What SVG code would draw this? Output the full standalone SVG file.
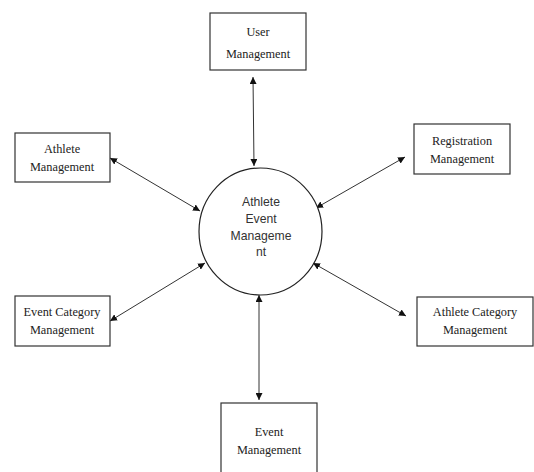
<svg xmlns="http://www.w3.org/2000/svg" width="534" height="472" viewBox="0 0 534 472">
<style>
.box{fill:#fff;stroke:#333;stroke-width:1.2}
.t{font-family:"Liberation Serif",serif;font-size:12.3px;fill:#222;text-anchor:middle}
.c{font-family:"Liberation Sans",sans-serif;font-size:12.2px;fill:#333;text-anchor:middle}
.ln{stroke:#333;stroke-width:1;fill:none;marker-start:url(#ah);marker-end:url(#ah)}
</style>
<defs>
<marker id="ah" viewBox="0 0 10 10" refX="10" refY="5" markerWidth="7" markerHeight="7" markerUnits="userSpaceOnUse" orient="auto-start-reverse">
<path d="M0,0 L10,5 L0,10 z" fill="#111"/>
</marker>
</defs>
<rect width="534" height="472" fill="#fff"/>
<g id="connectors">
<line class="ln" x1="253" y1="77" x2="254" y2="166"/>
<line class="ln" x1="110" y1="158" x2="200" y2="211"/>
<line class="ln" x1="405" y1="157" x2="316" y2="208"/>
<line class="ln" x1="110" y1="321" x2="205" y2="263"/>
<line class="ln" x1="313" y1="263" x2="406" y2="316"/>
<line class="ln" x1="259" y1="295" x2="259" y2="400"/>
</g>
<g id="center">
<ellipse cx="260.5" cy="231.5" rx="61.5" ry="63.5" fill="#fff" stroke="#222" stroke-width="1.2"/>
<text class="c" x="261" y="206">Athlete</text>
<text class="c" x="261" y="223">Event</text>
<text class="c" x="261" y="240">Manageme</text>
<text class="c" x="261" y="256">nt</text>
</g>
<g id="user">
<rect class="box" x="210" y="13" width="96" height="57"/>
<text class="t" x="258" y="36">User</text>
<text class="t" x="258" y="58">Management</text>
</g>
<g id="athlete">
<rect class="box" x="15" y="133" width="95" height="49"/>
<text class="t" x="62" y="153">Athlete</text>
<text class="t" x="62" y="171">Management</text>
</g>
<g id="registration">
<rect class="box" x="414" y="124" width="96" height="50"/>
<text class="t" x="462" y="145">Registration</text>
<text class="t" x="462" y="163">Management</text>
</g>
<g id="eventcategory">
<rect class="box" x="15" y="296" width="95" height="50"/>
<text class="t" x="62" y="316">Event Category</text>
<text class="t" x="62" y="334">Management</text>
</g>
<g id="athletecategory">
<rect class="box" x="417" y="297" width="116" height="49"/>
<text class="t" x="475" y="316">Athlete Category</text>
<text class="t" x="475" y="334">Management</text>
</g>
<g id="event">
<rect class="box" x="221" y="403" width="96" height="80"/>
<text class="t" x="269" y="436">Event</text>
<text class="t" x="269" y="454">Management</text>
</g>
</svg>
